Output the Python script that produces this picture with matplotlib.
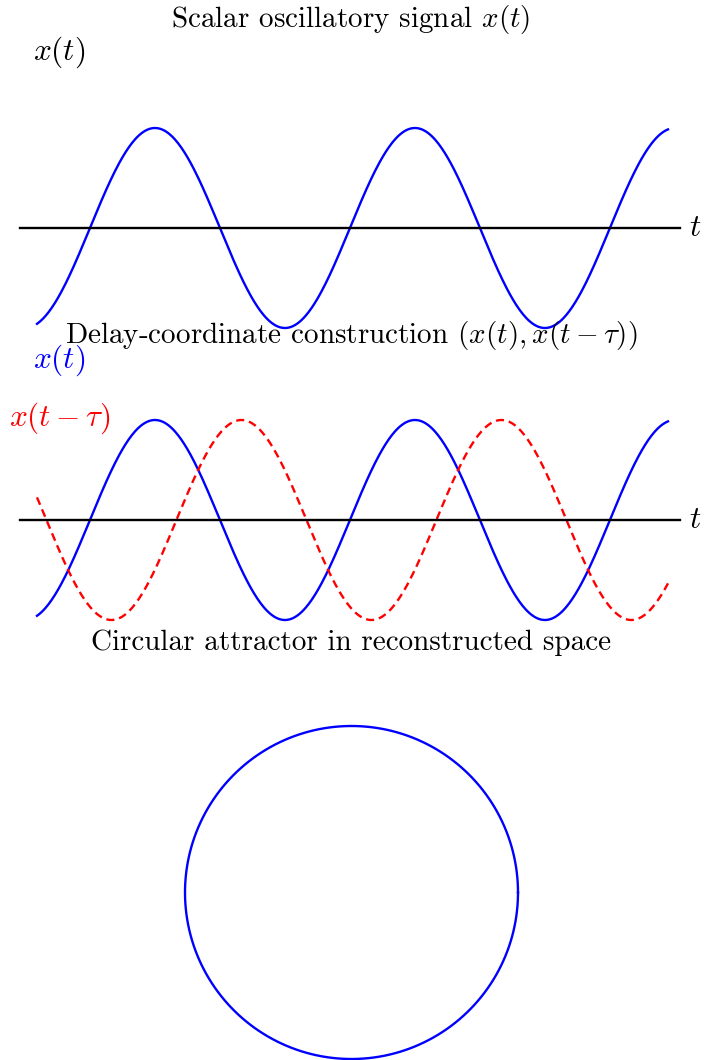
import numpy as np
import matplotlib.pyplot as plt

plt.rcParams['font.family'] = 'cmr10'
plt.rcParams['mathtext.fontset'] = 'cm'
plt.rcParams['axes.unicode_minus'] = False

# signal x(t) = sin(t) over the plotted window, delay tau
t_start, t_end = -1.28, 13.97
tau = 2.09
axis_start, axis_end = -1.69, 14.26

t = np.linspace(t_start, t_end, 600)
x = np.sin(t)
x_delay = np.sin(t - tau)

theta = np.linspace(0, 2 * np.pi, 400)

titles = ['Scalar oscillatory signal $x(t)$',
          r'Delay-coordinate construction $(x(t), x(t-\tau))$',
          'Circular attractor in reconstructed space']

W, H = 708, 1060
fig = plt.figure(figsize=(W / 100, H / 100), dpi=100)


def px_axes(left, top, right, bottom):
    return fig.add_axes([left / W, 1 - bottom / H, (right - left) / W, (bottom - top) / H])


fs = 21
lfs = 22.5
lw = 1.7

# panel 1: scalar signal
ax1 = px_axes(37, 128, 668, 328)
ax1.plot(t, x, color='blue', lw=lw, clip_on=False)
ax1.plot([axis_start, axis_end], [0, 0], color='black', lw=lw, clip_on=False)
ax1.set_xlim(t_start, t_end)
ax1.set_ylim(-1, 1)
ax1.text(axis_end + 0.22, 0, '$t$', fontsize=lfs, va='center', ha='left')
ax1.text(-0.74, 1.76, '$x(t)$', fontsize=lfs, va='center', ha='center')
ax1.axis('off')

# panel 2: delay coordinates
ax2 = px_axes(37, 420, 668, 620)
ax2.plot(t, x, color='blue', lw=lw, clip_on=False)
ax2.plot(t, x_delay, color='red', lw=lw, ls=(0, (3.4, 2.1)), clip_on=False)
ax2.plot([axis_start, axis_end], [0, 0], color='black', lw=lw, clip_on=False)
ax2.set_xlim(t_start, t_end)
ax2.set_ylim(-1, 1)
ax2.text(axis_end + 0.22, 0, '$t$', fontsize=lfs, va='center', ha='left')
ax2.text(-0.74, 1.6, '$x(t)$', fontsize=lfs, va='center', ha='center', color='blue')
ax2.text(-0.74, 1.02, r'$x(t-\tau)$', fontsize=lfs, va='center', ha='center', color='red')
ax2.axis('off')

# panel 3: reconstructed attractor
ax3 = px_axes(185, 726, 518, 1059)
ax3.plot(np.cos(theta), np.sin(theta), color='blue', lw=lw, clip_on=False)
ax3.set_xlim(-1, 1)
ax3.set_ylim(-1, 1)
ax3.axis('off')

for y, title in zip([20, 335, 643], titles):
    fig.text(351 / W, 1 - y / H, title, fontsize=fs, ha='center', va='center')

fig.savefig('out.png', dpi=100)
